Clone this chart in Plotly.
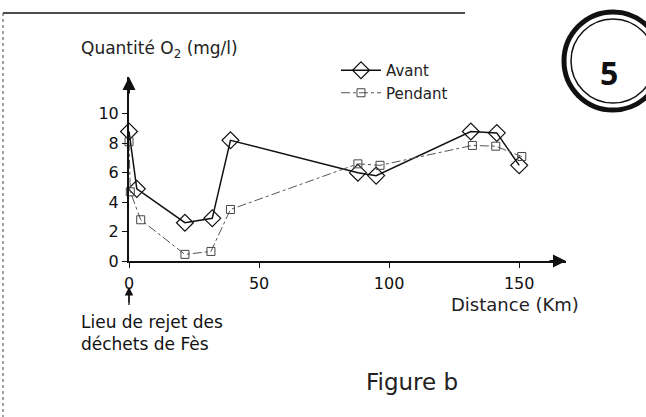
import plotly.graph_objects as go

# ---- data ----
avant_x = [0, 3, 21.5, 32, 39, 88, 95, 131.4, 141.4, 150]
avant_y = [8.8, 4.9, 2.6, 2.9, 8.2, 6.0, 5.8, 8.8, 8.7, 6.5]
pendant_x = [0, 0.5, 4.5, 21.5, 31.5, 39, 88, 96.5, 132, 141, 151]
pendant_y = [8.1, 4.7, 2.8, 0.45, 0.65, 3.5, 6.6, 6.5, 7.85, 7.8, 7.1]
x_ticks = [0, 50, 100, 150]
y_ticks = [0, 2, 4, 6, 8, 10]

FONT = "DejaVu Sans, Liberation Sans, sans-serif"
W, H = 646, 417
L, R, T, B = 129, 80, 77, 156
PW, PH = W - L - R, H - T - B


def px(x):
    return (x - L) / PW


def py(y):
    return (H - B - y) / PH


fig = go.Figure()
fig.add_trace(go.Scatter(
    x=avant_x, y=avant_y, name="Avant", mode="lines+markers",
    line=dict(color="#111", width=1.5),
    marker=dict(symbol="diamond-open", size=13, color="#111", line=dict(width=1.2)),
    cliponaxis=False))
fig.add_trace(go.Scatter(
    x=pendant_x, y=pendant_y, name="Pendant", mode="lines+markers",
    line=dict(color="#555", width=1, dash="dashdot"),
    marker=dict(symbol="square-open", size=8, color="#444", line=dict(width=1)),
    cliponaxis=False))

fig.update_layout(
    width=W, height=H, margin=dict(l=L, r=R, t=T, b=B, autoexpand=False),
    paper_bgcolor="white", plot_bgcolor="white",
    font=dict(family=FONT, color="#111", size=15),
    showlegend=True,
    legend=dict(x=px(336), y=py(54), xanchor="left", yanchor="top",
                bgcolor="rgba(0,0,0,0)", font=dict(size=15, color="#222"),
                tracegroupgap=0, itemwidth=40),
    xaxis=dict(range=[0, 168], showgrid=False, zeroline=False, showline=True,
               linecolor="#111", linewidth=2, ticks="outside", ticklen=5,
               tickcolor="#111", tickvals=x_ticks, ticktext=[str(v) for v in x_ticks],
               tickfont=dict(size=16, color="#111"), ticklabelstandoff=2,
               fixedrange=True),
    yaxis=dict(range=[0, 12.5], showgrid=False, zeroline=False, showline=True,
               linecolor="#111", linewidth=2, ticks="outside", ticklen=5,
               tickcolor="#111", tickvals=y_ticks, ticktext=[str(v) for v in y_ticks],
               tickfont=dict(size=16, color="#111"), fixedrange=True),
)

anns = []
# axis arrowheads
anns.append(dict(x=168, y=0, xref="x", yref="y", ax=-18, ay=0, showarrow=True,
                 arrowhead=2, arrowsize=1.3, arrowwidth=2, arrowcolor="#111", text=""))
anns.append(dict(x=0, y=12.5, xref="x", yref="y", ax=0, ay=18, showarrow=True,
                 arrowhead=2, arrowsize=1.3, arrowwidth=2, arrowcolor="#111", text=""))
# waste discharge arrow
anns.append(dict(x=px(129), y=py(287), xref="paper", yref="paper", ax=0, ay=17,
                 showarrow=True, arrowhead=2, arrowsize=1.3, arrowwidth=1.3,
                 arrowcolor="#111", text=""))
anns.append(dict(x=px(79), y=py(310), xref="paper", yref="paper", xanchor="left",
                 yanchor="top", align="left", showarrow=False,
                 text="Lieu de rejet des<br>déchets de Fès", font=dict(size=17, color="#111")))
anns.append(dict(x=px(79), y=py(50), xref="paper", yref="paper", xanchor="left",
                 yanchor="middle", showarrow=False,
                 text="Quantité O<sub>2</sub> (mg/l)", font=dict(size=17, color="#222")))
anns.append(dict(x=px(581), y=py(304), xref="paper", yref="paper", xanchor="right",
                 yanchor="middle", showarrow=False,
                 text="Distance (Km)", font=dict(size=18, color="#222")))
anns.append(dict(x=px(412), y=py(382), xref="paper", yref="paper", xanchor="center",
                 yanchor="middle", showarrow=False,
                 text="Figure b", font=dict(size=23, color="#222")))
anns.append(dict(x=px(609), y=py(72), xref="paper", yref="paper", xanchor="center",
                 yanchor="middle", showarrow=False,
                 text="<b>5</b>", font=dict(size=32, color="#111",
                                            family="Open Sans, Liberation Sans, sans-serif")))
fig.update_layout(annotations=anns)

shapes = []
# top border
shapes.append(dict(type="line", xref="paper", yref="paper", x0=px(3), x1=px(465),
                   y0=py(13), y1=py(13), line=dict(color="#111", width=1.5)))
# left dotted border
shapes.append(dict(type="line", xref="paper", yref="paper", x0=px(3), x1=px(3),
                   y0=py(13), y1=py(417), line=dict(color="#444", width=1, dash="dot")))
# waste discharge arrow shaft
shapes.append(dict(type="line", xref="paper", yref="paper", x0=px(129), x1=px(129),
                   y0=py(305), y1=py(290), line=dict(color="#111", width=1.3)))
# circle badge
cx, cy = 613, 61
for r, w in [(49, 5), (42, 1.5)]:
    shapes.append(dict(type="circle", xref="paper", yref="paper",
                       x0=px(cx - r), x1=px(cx + r), y0=py(cy + r), y1=py(cy - r),
                       line=dict(color="#111", width=w)))
fig.update_layout(shapes=shapes)

fig.write_html("out.html", config={"displayModeBar": False},
               post_script="document.body.style.margin='0';document.body.style.overflow='hidden';")
